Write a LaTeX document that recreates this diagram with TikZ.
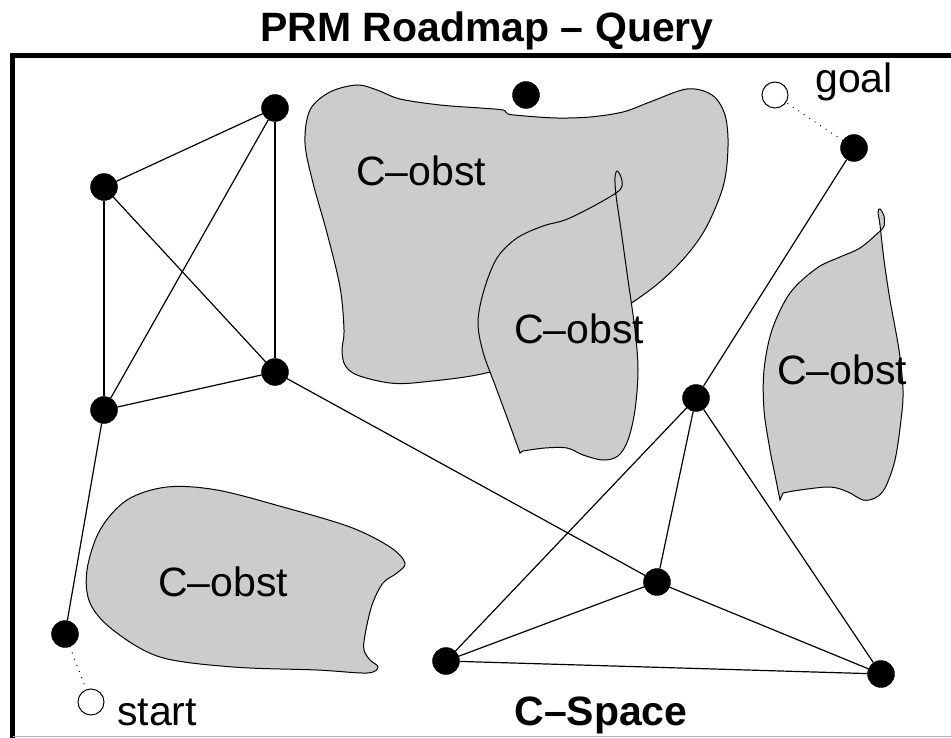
\documentclass[tikz,border=0pt]{standalone}
\usepackage{fontspec}
\setmainfont{Liberation Sans}
\begin{document}
\begin{tikzpicture}[x=1pt,y=-1pt,
  dot/.style={circle,fill=black,draw=black,inner sep=0pt,minimum size=27pt},
  opendot/.style={circle,fill=white,draw=black,line width=1pt,inner sep=0pt,minimum size=26pt},
  edge/.style={line width=1.2pt},
  dotline/.style={line width=1.3pt,line cap=round,dash pattern=on 0.1pt off 6.5pt},
  obst/.style={fill=obstgray,draw=black,line width=1pt},
  lbl/.style={anchor=base,inner sep=0pt,font=\fontsize{41}{48}\selectfont},
  blbl/.style={anchor=base,inner sep=0pt,font=\fontsize{41}{48}\selectfont\bfseries}]
\definecolor{obstgray}{RGB}{204,204,204}
\useasboundingbox (0,0) rectangle (951,738);
\fill[white] (0,0) rectangle (951,738);

% obstacles
\path[obst] plot[smooth cycle,tension=0.55] coordinates {(357,85) (377,90) (400,99) (440,105) (480,108) (503,110) (508,114) (525,116) (557,118) (590,117) (623,112) (650,102) (687,89) (712,95) (725,115) (728,147) (723,187) (703,233) (673,270) (633,302) (560,345) (490,372) (423,382) (390,383) (357,375) (345,365) (342,350) (344,330) (340,287) (327,233) (313,183) (305,143) (310,110) (330,92)};
\path[obst] plot[smooth,tension=0.55] coordinates {(523,451) (545,448) (567,448) (583,455) (603,460) (618,456) (628,440) (635,410) (638,370) (635,330) (628,280) (621,230) (616,195) (615,178) (617,171) (621,177) (622,186) (616,193) (590,208) (565,220) (543,226) (517,238) (497,258) (484,290) (478,322) (483,352) (495,385) (508,420) (520,453)} -- cycle;
\path[obst] plot[smooth,tension=0.55] coordinates {(783,493) (800,490) (830,487) (848,492) (863,500) (875,498) (885,488) (895,460) (901,420) (903,390) (899,350) (890,300) (884,260) (880,225) (878,212) (880,209) (884,216) (884,226) (879,232) (860,248) (840,257) (817,268) (790,293) (772,330) (764,370) (764,410) (770,450) (775,475) (780,500)} -- cycle;
\path[obst] plot[smooth cycle,tension=0.55] coordinates {(87,570) (100,530) (127,500) (167,487) (217,490) (283,507) (350,527) (390,547) (405,563) (397,573) (383,583) (372,605) (365,635) (364,650) (370,660) (378,667) (367,673) (317,670) (233,667) (160,657) (113,630) (90,603)};

\node[lbl] (l1) at (421,186) {C–obst};
\node[lbl] (l2) at (579,343) {C–obst};
\node[lbl] (l3) at (842,384) {C–obst};
\node[lbl] (l4) at (223,596) {C–obst};

% roadmap nodes
\node[dot] (A) at (104,187) {};
\node[dot] (B) at (275,108) {};
\node[dot] (C) at (275,372) {};
\node[dot] (D) at (104,410) {};
\node[dot] (E) at (65,634) {};
\node[dot] (F) at (526,95) {};
\node[dot] (G) at (854,148) {};
\node[dot] (H) at (696,398) {};
\node[dot] (I) at (657,582) {};
\node[dot] (J) at (446,661) {};
\node[dot] (K) at (881,674) {};
\node[opendot] (goal) at (775,95) {};
\node[opendot] (start) at (91,702) {};

\draw[edge] (A) -- (B);
\draw[edge] (A) -- (C);
\draw[edge] (A) -- (D);
\draw[edge] (B) -- (D);
\draw[edge] (B) -- (C);
\draw[edge] (C) -- (D);
\draw[edge] (D) -- (E);
\draw[edge] (C) -- (I);
\draw[edge] (H) -- (G);
\draw[edge] (H) -- (J);
\draw[edge] (H) -- (I);
\draw[edge] (H) -- (K);
\draw[edge] (I) -- (J);
\draw[edge] (I) -- (K);
\draw[edge] (J) -- (K);
\draw[dotline] (E) -- (start);
\draw[dotline] (G) -- (goal);

% texts
\node[blbl] (title) at (487,42) {PRM Roadmap – Query};
\node[lbl] (goaltxt) at (854,93) {goal};
\node[lbl] (starttxt) at (157,725) {start};
\node[blbl] (cspace) at (601,725) {C–Space};

% frame
\draw[line width=4.5pt] (12.5,55.5) -- (960,55.5);
\draw[line width=4.5pt] (12.5,53.25) -- (12.5,745);
\draw[line width=1.5pt,black!30] (12.5,736.5) -- (951,736.5);
\end{tikzpicture}
\end{document}
